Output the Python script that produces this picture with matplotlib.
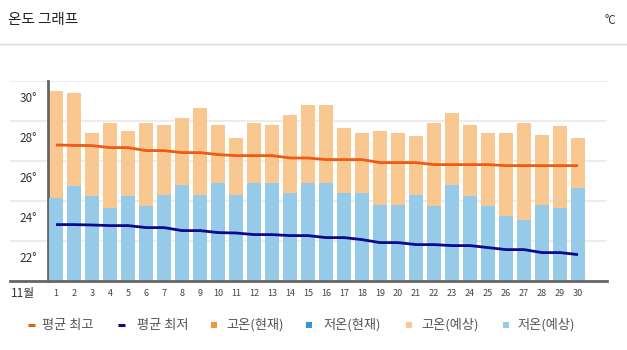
import matplotlib
matplotlib.use("Agg")
import matplotlib.pyplot as plt
from matplotlib.lines import Line2D
from matplotlib.transforms import ScaledTranslation, blended_transform_factory

plt.rcParams['font.family'] = ['Noto Sans CJK KR', 'DejaVu Sans']

days = list(range(1, 31))
high_forecast = [29.5, 29.4, 27.4, 27.9, 27.5, 27.9, 27.8, 28.15, 28.65, 27.8,
                 27.15, 27.9, 27.8, 28.3, 28.8, 28.8, 27.65, 27.4, 27.5, 27.4,
                 27.25, 27.9, 28.4, 27.8, 27.4, 27.4, 27.9, 27.3, 27.75, 27.15]
low_forecast = [24.17, 24.75, 24.25, 23.67, 24.27, 23.77, 24.3, 24.8, 24.32, 24.92,
                24.3, 24.9, 24.9, 24.4, 24.9, 24.9, 24.4, 24.4, 23.82, 23.82,
                24.3, 23.77, 24.8, 24.25, 23.77, 23.27, 23.07, 23.82, 23.67, 24.67]
avg_max = [26.8, 26.78, 26.77, 26.67, 26.67, 26.52, 26.52, 26.42, 26.42, 26.32,
           26.27, 26.27, 26.27, 26.15, 26.15, 26.07, 26.07, 26.07, 25.92, 25.92,
           25.92, 25.82, 25.82, 25.82, 25.82, 25.77, 25.77, 25.77, 25.77, 25.77]
avg_min = [22.82, 22.82, 22.8, 22.77, 22.77, 22.67, 22.67, 22.52, 22.52, 22.42,
           22.4, 22.32, 22.32, 22.27, 22.27, 22.17, 22.17, 22.07, 21.92, 21.92,
           21.82, 21.82, 21.77, 21.77, 21.67, 21.57, 21.57, 21.42, 21.42, 21.32]
y_ticks = [22, 24, 26, 28, 30]
y_tick_labels = ['22°', '24°', '26°', '28°', '30°']
legend_labels = ['평균 최고', '평균 최저', '고온(현재)', '저온(현재)', '고온(예상)', '저온(예상)']

c_max = '#ee5a17'
c_min = '#0c0a8a'
c_high_now = '#f7943a'
c_low_now = '#2b9ad6'
c_high_fc = '#f9c890'
c_low_fc = '#95cbe9'

W, H = 627, 350
fig = plt.figure(figsize=(6.27, 3.5), dpi=100)
ax = fig.add_axes([10/W, 69/H, 597/W, 200/H])

ax.bar(days, high_forecast, width=0.74, color=c_high_fc, zorder=2)
ax.bar(days, low_forecast, width=0.74, color=c_low_fc, zorder=3)
ax.plot(days, avg_max, color=c_max, lw=2, zorder=4, solid_capstyle='butt')
ax.plot(days, avg_min, color=c_min, lw=2, zorder=4, solid_capstyle='butt')

ax.set_xlim(-1.556, 31.61)
ax.set_ylim(20, 30)
ax.set_yticks([20] + y_ticks)
ax.yaxis.grid(True, color='#ececec', lw=1.5, zorder=0)
ax.set_axisbelow(True)
ax.set_yticklabels([''] + y_tick_labels)
ax.set_xticks(days)
ax.set_xticklabels([str(d) for d in days])

for s in ['top', 'right']:
    ax.spines[s].set_visible(False)
ax.spines['left'].set_position(('data', 0.556))
ax.spines['left'].set_color('#666666')
ax.spines['left'].set_linewidth(2)
ax.spines['bottom'].set_color('#666666')
ax.spines['bottom'].set_linewidth(2)
ax.spines['bottom'].set_zorder(5)

ax.tick_params(axis='y', length=0, pad=8, labelsize=8.5, labelcolor='#333333')
ax.tick_params(axis='x', length=0, pad=6, labelsize=6.5, labelcolor='#444444')
off = ScaledTranslation(0, -16/100, fig.dpi_scale_trans)
for lab in ax.get_yticklabels():
    lab.set_transform(lab.get_transform() + off)

tr = blended_transform_factory(ax.transData, fig.transFigure)
ax.text(-0.86, 1 - 293/H, '11월', transform=tr, ha='center', va='center',
        fontsize=8.5, color='#333333')

fig.text(8/W, 1 - 20/H, '온도 그래프', ha='left', va='center', fontsize=10.5, color='#222222')
fig.text(616/W, 1 - 20/H, '°C', ha='right', va='center', fontsize=8.5, color='#333333')
fig.add_artist(Line2D([0, 1], [1 - 44/H, 1 - 44/H], transform=fig.transFigure,
                      color='#dddddd', lw=1))

# legend laid out by hand
leg_colors = [c_max, c_min, c_high_now, c_low_now, c_high_fc, c_low_fc]
leg_handle_x = [28, 118, 211, 306, 406, 503]
leg_text_x = [42, 137, 226, 323, 421, 517]
ly = 1 - 325/H
for i, (lab, col) in enumerate(zip(legend_labels, leg_colors)):
    hx = leg_handle_x[i]
    if i < 2:
        fig.add_artist(Line2D([hx/W, (hx + 7)/W], [ly, ly], transform=fig.transFigure,
                              color=col, lw=2.2, solid_capstyle='butt'))
    else:
        fig.add_artist(Line2D([(hx + 3)/W], [ly], transform=fig.transFigure, marker='s',
                              ms=4.5, mew=0, color=col, ls='none'))
    fig.text(leg_text_x[i]/W, ly, lab, ha='left', va='center', fontsize=9.5, color='#555555')

fig.savefig('out.png', dpi=100)
